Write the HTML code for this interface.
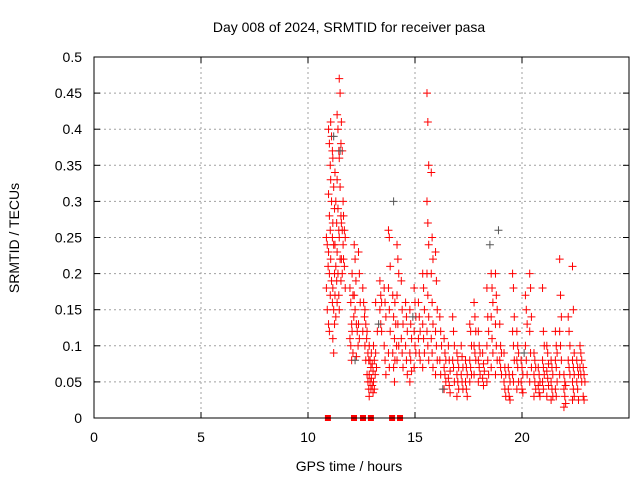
<!DOCTYPE html>
<html><head><meta charset="utf-8"><style>
body{margin:0;background:#fff}
svg{display:block;font-family:"Liberation Sans",sans-serif}
</style></head><body>
<svg id="chart" width="640" height="480">
<rect width="640" height="480" fill="#fff"/>
<text x="349" y="32" font-size="14" text-anchor="middle">Day 008 of 2024, SRMTID for receiver pasa</text>
<text x="349" y="471" font-size="14" text-anchor="middle">GPS time / hours</text>
<text transform="translate(19,238) rotate(-90)" font-size="14" text-anchor="middle">SRMTID / TECUs</text>
<g id="grid"></g><g id="ticks"></g><g id="marks"></g>
<rect x="94" y="57" width="535" height="361" fill="none" stroke="#000" stroke-width="1"/>
</svg>
<script>
const xTicks=[0,5,10,15,20];
const yTicks=[0,0.05,0.1,0.15,0.2,0.25,0.3,0.35,0.4,0.45,0.5];
const yTickLabels=["0","0.05","0.1","0.15","0.2","0.25","0.3","0.35","0.4","0.45","0.5"];
const colTimes=[10.9,11.0,11.1,11.2,11.3,11.4,11.5,11.6,11.7,12.0,12.1,12.2,12.3,12.4,12.6,12.7,12.8,12.9,13.0,13.1,13.2,13.4,13.6,13.8,14.0,14.1,14.2,14.4,14.6,14.8,15.0,15.2,15.4,15.6,15.8,16.0,16.2,16.4,16.6,16.8,17.0,17.2,17.4,17.6,17.8,18.0,18.2,18.4,18.6,18.8,19.0,19.2,19.4,19.6,19.8,20.0,20.2,20.4,20.6,20.8,21.0,21.2,21.4,21.6,21.8,22.0,22.2,22.4,22.6,22.75,22.9];
const colValues=[
[.25,.24,.21,.18,.15],[.40,.38,.35,.31,.28,.26,.23,.2,.17,.13,.12],[.41,.39,.37,.33,.30,.25,.22,.19,.16],
[.36,.32,.29,.27,.24,.2,.18,.15,.13,.11,.09],[.34,.3,.27,.24,.21,.19,.17,.14],[.42,.4,.37,.33,.29,.26,.23,.2,.17,.16],
[.47,.45,.38,.36,.32,.28,.25,.22,.19,.15],[.41,.37,.3,.27,.26,.24,.22,.2],[.28,.26,.25,.22,.21,.18],
[.18,.16,.13,.11,.1,.08],[.2,.17,.14,.12,.09],[.24,.22,.19,.17,.15],[.13,.12,.1,.085],[.23,.2,.16,.13,.11],[.18,.16,.14,.12],
[.15,.13,.11,.1,.08],[.12,.09,.08,.06,.05,.04],[.1,.08,.07,.06,.05,.04,.03],[.09,.075,.065,.055,.045,.035],
[.1,.08,.06,.05,.04],[.09,.07,.12,.16],[.19,.17,.16,.15,.13,.12],[.18,.16,.14,.1,.08,.06],[.26,.25,.21,.18,.15,.12,.09,.07],
[.17,.14,.11,.09,.07,.05],[.16,.13,.1,.08],[.24,.22,.2,.17,.13,.1,.08],[.19,.15,.13,.11,.09,.07],[.16,.14,.12,.1,.08,.06],
[.15,.13,.11,.09,.08,.065,.05],[.18,.16,.14,.12,.1,.09,.07],[.16,.14,.12,.11,.09,.08],[.2,.18,.15,.13,.11,.09,.07],
[.45,.41,.35,.3,.27,.24,.2,.17,.14,.12,.1,.08],[.34,.25,.22,.2,.16,.13,.11,.09,.07],[.23,.19,.15,.12,.1,.08,.06],
[.14,.12,.1,.08,.06],[.11,.09,.08,.07,.06,.05,.04],[.1,.08,.065,.055,.045,.035],[.14,.12,.1,.08,.07,.05],
[.09,.08,.07,.06,.05,.04,.03],[.1,.085,.07,.06,.05,.04],[.08,.07,.06,.05,.04,.03],[.13,.12,.1,.08,.07,.06,.05],
[.16,.14,.12,.1,.09,.08,.06],[.12,.1,.09,.08,.07,.06,.05],[.09,.075,.065,.055,.045],[.18,.14,.12,.1,.08,.06,.05],
[.2,.18,.16,.14,.11,.09,.07],[.2,.17,.15,.13,.1,.08,.06],[.13,.1,.09,.08,.07,.06],[.09,.07,.06,.05,.04,.03],
[.07,.06,.05,.04,.03,.025],[.2,.18,.14,.12,.1,.08,.06,.05],[.12,.1,.09,.08,.07,.05,.04],[.08,.07,.06,.05,.04,.035],
[.17,.15,.13,.1,.08,.06],[.2,.18,.14,.12,.09,.07,.05],[.09,.08,.07,.06,.05,.04,.03],[.07,.06,.05,.045,.035,.03],
[.18,.12,.1,.08,.07,.06,.05,.04],[.1,.09,.075,.065,.055,.045,.03],[.08,.07,.06,.05,.04,.03,.025],
[.12,.1,.09,.08,.07,.05,.04,.03],[.22,.17,.14,.12,.1,.08,.06],[.06,.05,.045,.04,.03,.02,.015],
[.14,.12,.1,.08,.07,.06],[.21,.15,.09,.08,.07,.06,.05,.04,.03,.025],[.08,.07,.06,.05,.04,.025],
[.1,.09,.08,.07,.06,.05],[.07,.06,.05,.03,.025]];
const greyTimes=[11.2,11.5,12.2,13.3,14.0,16.3,18.5,18.9,14.9,20.1];
const greyValues=[0.39,0.37,0.08,0.13,0.3,0.04,0.24,0.26,0.14,0.09];
const zeroTimes=[10.93,12.15,12.57,12.94,13.93,14.3];

const X=t=>94+t*(535/25), Y=v=>418-v*(361/0.5);
const NS="http://www.w3.org/2000/svg";
const grid=document.getElementById('grid'),ticks=document.getElementById('ticks'),marks=document.getElementById('marks');
function mk(tag,attrs,parent){const e=document.createElementNS(NS,tag);for(const k in attrs)e.setAttribute(k,attrs[k]);parent.appendChild(e);return e;}
xTicks.forEach(t=>{
  if(t>0){const g=mk('line',{x1:X(t),x2:X(t),y1:57,y2:418,stroke:'#a0a0a0','stroke-dasharray':'2,3'},grid);
  
  }
  mk('line',{x1:X(t),x2:X(t),y1:418,y2:412,stroke:'#000'},ticks);
  mk('line',{x1:X(t),x2:X(t),y1:57,y2:63,stroke:'#000'},ticks);
  const l=mk('text',{x:X(t),y:442,'font-size':14,'text-anchor':'middle'},ticks);l.textContent=t;
  
  
});
yTicks.forEach((v,i)=>{
  if(v>0&&v<0.5){const g=mk('line',{x1:94,x2:629,y1:Y(v),y2:Y(v),stroke:'#a0a0a0','stroke-dasharray':'2,3'},grid);
  
  }
  mk('line',{x1:94,x2:100,y1:Y(v),y2:Y(v),stroke:'#000'},ticks);
  mk('line',{x1:629,x2:623,y1:Y(v),y2:Y(v),stroke:'#000'},ticks);
  const l=mk('text',{x:82,y:Y(v)+5,'font-size':14,'text-anchor':'end'},ticks);l.textContent=yTickLabels[i];
  
  
});
function plus(t,v,color){const x=X(t),y=Y(v);
  const p=mk('path',{d:`M${x-4},${y}H${x+4}M${x},${y-4}V${y+4}`,stroke:color,'stroke-width':1,fill:'none'},marks);
  
  }
colTimes.forEach((t,i)=>colValues[i].forEach((v,j)=>plus(t+((j%3)-1)*0.04,v,'#ff0000')));
greyTimes.forEach((t,i)=>plus(t,greyValues[i],'#555'));
zeroTimes.forEach(t=>{const r=mk('rect',{x:X(t)-3,y:415,width:6,height:6,fill:'#ff0000'},marks);
  
  });
</script>
</body></html>
